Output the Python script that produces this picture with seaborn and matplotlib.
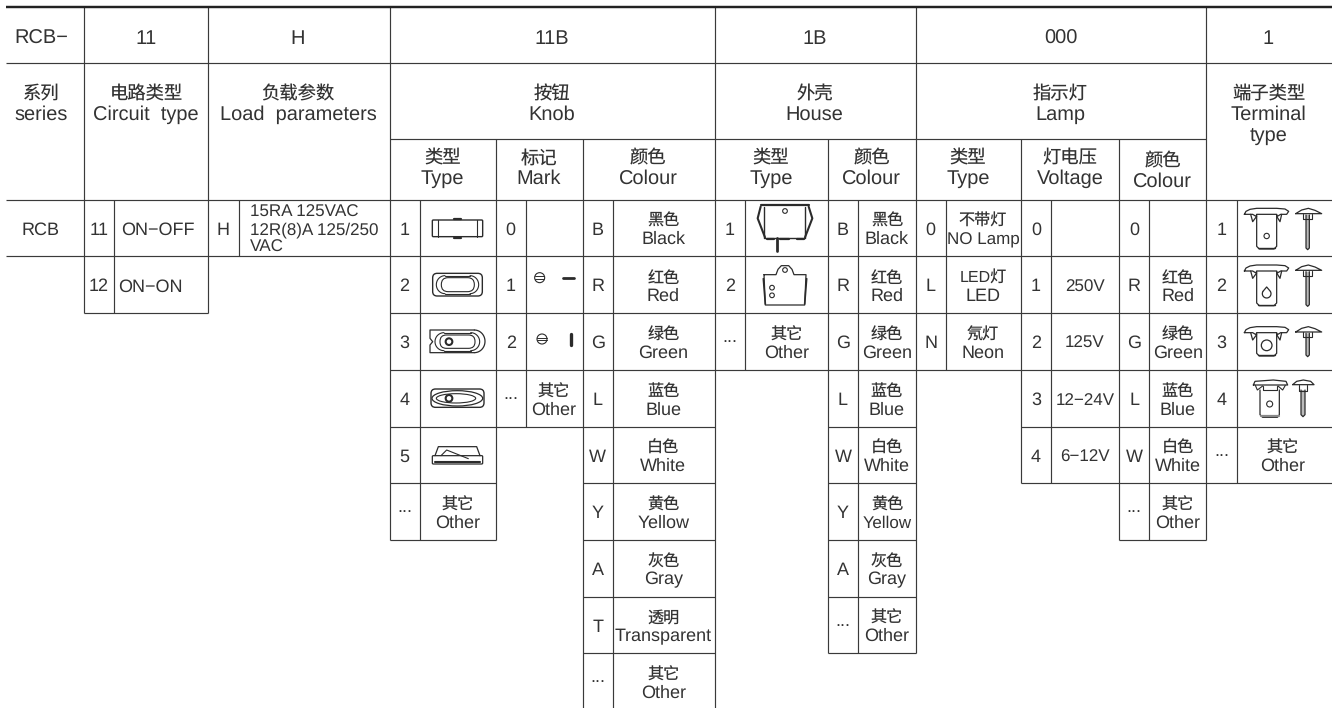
import matplotlib
matplotlib.use("Agg")
import matplotlib.pyplot as plt
from matplotlib.patches import Circle, Ellipse, FancyBboxPatch, Polygon
import numpy as np
import seaborn as sns

# ---------- table content ----------
top_codes = ["RCB−", "11", "H", "11B", "1B", "000", "1"]
head_cn = ["系列", "电路类型", "负载参数", "按钮", "外壳", "指示灯"]
head_en = ["series", "Circuit  type", "Load  parameters", "Knob", "House", "Lamp"]
terminal_head = ["端子类型", "Terminal", "type"]
sub_cn = ["类型", "标记", "颜色", "类型", "颜色", "类型", "灯电压", "颜色"]
sub_en = ["Type", "Mark", "Colour", "Type", "Colour", "Type", "Voltage", "Colour"]

series_label = "RCB"
circuit_codes = ["11", "12"]
circuit_names = ["ON−OFF", "ON−ON"]
load_code = "H"
load_lines = ["15RA 125VAC", "12R(8)A 125/250", "VAC"]

knob_type_codes = ["1", "2", "3", "4", "5", "..."]
mark_codes = ["0", "1", "2", "..."]
knob_colour_codes = ["B", "R", "G", "L", "W", "Y", "A", "T", "..."]
knob_colour_cn = ["黑色", "红色", "绿色", "蓝色", "白色", "黄色", "灰色", "透明", "其它"]
knob_colour_en = ["Black", "Red", "Green", "Blue", "White", "Yellow", "Gray", "Transparent", "Other"]
house_type_codes = ["1", "2", "..."]
house_colour_codes = ["B", "R", "G", "L", "W", "Y", "A", "..."]
house_colour_cn = ["黑色", "红色", "绿色", "蓝色", "白色", "黄色", "灰色", "其它"]
house_colour_en = ["Black", "Red", "Green", "Blue", "White", "Yellow", "Gray", "Other"]
lamp_type_codes = ["0", "L", "N"]
lamp_type_cn = ["不带灯", "LED灯", "氖灯"]
lamp_type_en = ["NO Lamp", "LED", "Neon"]
voltage_codes = ["0", "1", "2", "3", "4"]
voltage_names = ["", "250V", "125V", "12−24V", "6−12V"]
lamp_colour_codes = ["0", "R", "G", "L", "W", "..."]
lamp_colour_cn = ["", "红色", "绿色", "蓝色", "白色", "其它"]
lamp_colour_en = ["", "Red", "Green", "Blue", "White", "Other"]
terminal_codes = ["1", "2", "3", "4", "..."]
other_cn, other_en = "其它", "Other"

# ---------- layout (pixels) ----------
ROWS = [199.7, 256.4, 313.3, 370, 426.7, 483.3, 540, 596.7, 653.3, 710]
MID = [(a + b) / 2 for a, b in zip(ROWS, ROWS[1:])]
LINE = "#3a3a3a"
INK = "#333333"
ICON = "#2b2b2b"
HEAD_SIZE = 14.4
CELL_SIZE = 12.8

sns.set_theme(style="white")
plt.rcParams["font.family"] = ["Liberation Sans", "Noto Sans CJK SC", "DejaVu Sans"]
plt.rcParams["text.hinting"] = "no_hinting"
plt.rcParams["text.hinting_factor"] = 1

fig = plt.figure(figsize=(13.32, 7.08), dpi=100)
ax = fig.add_axes([0, 0, 1, 1])
ax.set_xlim(0, 1332)
ax.set_ylim(708, 0)
sns.despine(ax=ax, left=True, bottom=True)
ax.axis("off")

# ---------- rules ----------
h_rules = [
    (63.3, 6, 1332), (139.3, 389.5, 1206.3), (199.7, 6, 1332), (256.4, 6, 1332),
    (313.3, 84, 208), (313.3, 389.5, 1332), (370, 389.5, 1332),
    (426.7, 389.5, 714.7), (426.7, 828, 915.7), (426.7, 1021, 1332),
    (483.3, 389.5, 496), (483.3, 582.6, 714.7), (483.3, 828, 915.7), (483.3, 1021, 1332),
    (540, 389.5, 496), (540, 582.6, 714.7), (540, 828, 915.7), (540, 1119.3, 1206.3),
    (596.7, 582.6, 714.7), (596.7, 828, 915.7),
    (653.3, 582.6, 714.7), (653.3, 828, 915.7),
]
v_rules = [
    (84, 7, 313.3), (114.3, 199.7, 313.3), (208, 7, 313.3), (238.7, 199.7, 256.4),
    (389.5, 7, 540), (419.7, 199.7, 540), (496, 139.3, 540), (525.7, 199.7, 426.7),
    (582.6, 139.3, 708), (612.7, 199.7, 708), (714.7, 7, 708), (745, 199.7, 370),
    (828, 139.3, 653.3), (858.3, 199.7, 653.3), (915.7, 7, 653.3), (945.7, 199.7, 370),
    (1021, 139.3, 483.3), (1051, 199.7, 483.3), (1119.3, 139.3, 540), (1149.3, 199.7, 540),
    (1206.3, 7, 540), (1236.7, 199.7, 483.3),
]
for y, a, b in h_rules:
    ax.plot([a, b], [y, y], color=LINE, lw=0.85, solid_capstyle="butt")
for x, a, b in v_rules:
    ax.plot([x, x], [a, b], color=LINE, lw=0.85, solid_capstyle="butt")
ax.plot([6, 1332], [6.8, 6.8], color="#222222", lw=1.75, solid_capstyle="butt")

# ---------- text helpers ----------
def put(x, y, s, size=CELL_SIZE, ha="center"):
    if s:
        ax.text(x, y, s, fontsize=size, color=INK, ha=ha, va="baseline")

def code(x, row, s):
    if s == "...":
        put(x, MID[row] + 0.5, s)
    else:
        put(x, MID[row] + 6.6, s)

def pair(x, row, cn, en, en_size=CELL_SIZE):
    put(x, MID[row] - 2, cn, size=11.6)
    put(x, MID[row] + 16, en, size=en_size)

# top row
for x, s in zip([41, 146, 298, 552, 815, 1060.5, 1268.5], top_codes):
    put(x, 43.8, s, size=HEAD_SIZE)

# header row
for x, cn, en in zip([41, 146, 298, 552, 814.5, 1060.5], head_cn, head_en):
    put(x, 99.5, cn, size=13.2)
    put(x, 120, en, size=HEAD_SIZE)
put(1268.5, 99.5, terminal_head[0], size=13.2)
put(1268.5, 120, terminal_head[1], size=HEAD_SIZE)
put(1268.5, 142, terminal_head[2], size=HEAD_SIZE)

# sub header row
sub_x = [442.5, 539, 648.3, 771, 871.5, 968, 1070, 1162.5]
for i, (x, cn, en) in enumerate(zip(sub_x, sub_cn, sub_en)):
    dy = 3 if i == 7 else 0
    put(x, 163.5 + dy, cn, size=13.2)
    put(x, 184 + dy, en, size=HEAD_SIZE)

# left block
put(41, MID[0] + 6.6, series_label)
put(99, MID[0] + 6.6, circuit_codes[0])
put(99, MID[1] + 6.6, circuit_codes[1])
put(157.5, MID[0] + 6.6, circuit_names[0])
put(150.5, MID[1] + 6.6, circuit_names[1])
put(222.7, MID[0] + 6.6, load_code)
for dy, s in zip([-11.5, 6.4, 24], load_lines):
    put(250, MID[0] + dy, s, size=12.6, ha="left")

# code columns
for x, codes in [(404.6, knob_type_codes), (510.8, mark_codes), (597.6, knob_colour_codes),
                 (729.8, house_type_codes), (843, house_colour_codes), (930.7, lamp_type_codes),
                 (1036, voltage_codes), (1134.3, lamp_colour_codes), (1221.5, terminal_codes)]:
    for r, s in enumerate(codes):
        code(x, r, s)

# label columns
for r, (c, e) in enumerate(zip(knob_colour_cn, knob_colour_en)):
    pair(663.4, r, c, e)
for r, (c, e) in enumerate(zip(house_colour_cn, house_colour_en)):
    pair(887, r, c, e, en_size=12.3 if e == "Yellow" else CELL_SIZE)
for r, (c, e) in enumerate(zip(lamp_type_cn, lamp_type_en)):
    pair(983, r, c, e, en_size=11.9 if e == "NO Lamp" else CELL_SIZE)
for r, (c, e) in enumerate(zip(lamp_colour_cn, lamp_colour_en)):
    pair(1177.8, r, c, e)
for r, s in enumerate(voltage_names):
    put(1085, MID[r] + 6.6, s, size=12.4)
pair(457.8, 5, other_cn, other_en)
pair(554, 3, other_cn, other_en)
pair(786.5, 2, other_cn, other_en)
pair(1282.5, 4, other_cn, other_en)

# ---------- line-art icons, sketched in a 3x local grid ----------
def mapper(ox, oy):
    return lambda x, y: (ox + x / 3, oy + y / 3)

def pl(m, pts, lw=0.8, close=False, color=ICON, fill=None, z=5):
    xy = [m(*p) for p in pts]
    if close:
        xy.append(xy[0])
    if fill:
        ax.add_patch(Polygon(xy, closed=True, fc=fill, ec="none", zorder=z - 1))
    ax.plot(*zip(*xy), color=color, lw=lw, solid_capstyle="round", solid_joinstyle="round", zorder=z)

def arc(m, cx, cy, rx, ry, t0, t1, lw=0.8):
    t = np.radians(np.linspace(t0, t1, 30))
    pl(m, list(zip(cx + rx * np.cos(t), cy + ry * np.sin(t))), lw)

def circ(m, x, y, r, lw=0.8, fc="white"):
    ax.add_patch(Circle(m(x, y), r / 3, fc=fc, ec=ICON, lw=lw, zorder=4))

def ell(m, x, y, w, h, lw=0.8):
    ax.add_patch(Ellipse(m(x, y), w / 3, h / 3, fc="none", ec=ICON, lw=lw, zorder=3))

def rbox(m, x0, y0, x1, y1, rad, lw=0.8):
    a = m(x0, y0)
    b = m(x1, y1)
    ax.add_patch(FancyBboxPatch((a[0] + rad, a[1] + rad), b[0] - a[0] - 2 * rad, b[1] - a[1] - 2 * rad,
                                boxstyle=f"round,pad={rad}", fc="none", ec=ICON, lw=lw, zorder=3))

K = mapper(380, 190)
# knob 1
rbox(K, 157, 90, 308, 140, 1.0, 1.0)
pl(K, [(175, 90), (175, 140)])
pl(K, [(292, 90), (292, 140)])
pl(K, [(222, 88), (243, 88)], 1.6)
pl(K, [(222, 143), (243, 143)], 1.6)
# knob 2
rbox(K, 158, 250, 307, 318, 4.5, 1.0)
arc(K, 195, 284, 26, 27, 90, 270, 0.8)
arc(K, 270, 284, 26, 27, -90, 90, 0.8)
pl(K, [(195, 257), (270, 257)])
pl(K, [(195, 311), (270, 311)])
rbox(K, 184, 263, 283, 305, 6.8, 0.8)
# knob 3
pl(K, [(283, 420), (150, 420), (150, 445), (158, 455), (150, 465), (150, 488), (283, 488)], 0.9)
arc(K, 283, 454, 32, 34, -90, 90, 0.9)
arc(K, 192, 455, 27, 27, 90, 270, 0.8)
arc(K, 272, 455, 27, 27, -90, 90, 0.8)
pl(K, [(192, 428), (272, 428)])
pl(K, [(192, 482), (272, 482)])
rbox(K, 180, 435, 285, 475, 6.4, 0.8)
circ(K, 207, 455, 10, 1.5)
# knob 4
rbox(K, 153, 597, 312, 652, 4.5, 1.0)
ell(K, 232, 625, 152, 46, 0.9)
ell(K, 228, 625, 118, 28, 0.8)
circ(K, 207, 625, 10, 1.5)
# knob 5
pl(K, [(165, 797), (175, 770), (290, 770), (300, 797)], 0.9)
rbox(K, 157, 797, 308, 822, 1.0, 0.9)
pl(K, [(165, 815), (300, 815)], 1.5)
pl(K, [(183, 797), (200, 780), (265, 806)], 0.8)

# mark icons
for x, y in [(479, 263), (486, 447)]:
    circ(K, x, y, 15, 0.8)
    pl(K, [(x - 14, y - 4), (x + 14, y - 4)], 0.7)
    pl(K, [(x - 14, y + 4), (x + 14, y + 4)], 0.7)
pl(K, [(549, 263), (581, 263)], 2.0)
pl(K, [(572, 432), (572, 464)], 2.4)

H = mapper(710, 190)
# house 1
pl(H, [(152, 45), (296, 45)], 1.6)
pl(H, [(163, 50), (163, 145), (285, 145), (285, 50)], 1.0)
pl(H, [(152, 50), (143, 85), (165, 142)], 1.5)
pl(H, [(296, 50), (307, 85), (285, 142)], 1.5)
pl(H, [(172, 147), (192, 147)], 1.6)
pl(H, [(210, 147), (236, 147)], 1.6)
pl(H, [(262, 147), (282, 147)], 1.6)
pl(H, [(201, 145), (201, 183)], 2.0)
circ(H, 225, 63, 7, 0.8)
# house 2
pl(H, [(162, 254), (198, 254), (204, 238), (214, 227), (236, 227), (246, 238), (252, 254),
       (288, 254), (284, 345), (166, 345)], 0.9, close=True)
pl(H, [(160, 266), (166, 342)], 1.2)
pl(H, [(290, 266), (284, 342)], 1.2)
circ(H, 225, 240, 7, 0.8)
circ(H, 186, 293, 7, 0.8)
circ(H, 186, 316, 7, 0.8)

T = mapper(1040, 190)
def terminal(y0, length, hole):
    """y0: cap top in local grid."""
    cap = [(613, y0 + 18), (618, y0 + 9), (630, y0 + 3), (650, y0), (710, y0), (735, y0 + 2), (746, y0 + 9),
           (740, y0 + 18), (722, y0 + 18), (712, y0 + 24), (710, y0 + 18), (650, y0 + 18),
           (648, y0 + 24), (638, y0 + 18)]
    pl(T, cap, 0.9, close=True)
    pl(T, [(632, y0 + 18), (638, y0 + 40), (650, y0 + 24)], 0.9)
    pl(T, [(725, y0 + 18), (720, y0 + 40), (710, y0 + 24)], 0.9)
    pl(T, [(650, y0 + 20), (650, y0 + length - 8), (658, y0 + length), (702, y0 + length),
           (710, y0 + length - 8), (710, y0 + 20)], 0.9)
    pl(T, [(655, y0 + length - 2), (705, y0 + length - 2)], 1.0)
    hy = y0 + length * 0.68
    if hole == "round":
        circ(T, 680, hy, 8, 0.8)
    elif hole == "drop":
        arc(T, 680, hy + 3, 13, 13, -30, 210, 0.9)
        pl(T, [(669, hy - 4), (680, hy - 17), (691, hy - 4)], 0.9)
    else:
        circ(T, 680, y0 + length - 32, 16, 0.9)
    # side view
    pl(T, [(767, y0 + 16), (785, y0 + 5), (805, y0), (825, y0 + 6), (845, y0 + 16), (767, y0 + 16)], 0.9)
    pl(T, [(788, y0 + 17), (788, y0 + 32), (816, y0 + 32), (816, y0 + 17)], 0.8)
    pl(T, [(798, y0 + 20), (798, y0 + length - 3), (803, y0 + length + 2), (808, y0 + length - 3),
           (808, y0 + 20)], 0.9, fill="#bbbbbb")

terminal(55, 122, "round")
terminal(225, 122, "drop")
terminal(410, 88, "big")

# terminal 4
pl(T, [(640, 585), (645, 574), (700, 570), (738, 574), (743, 585), (640, 585)], 0.9)
pl(T, [(646, 586), (652, 600), (668, 588)], 0.8)
pl(T, [(736, 586), (728, 600), (714, 588)], 0.8)
pl(T, [(668, 588), (668, 600), (712, 600), (712, 588)], 0.8)
pl(T, [(660, 600), (660, 674), (668, 682), (712, 682), (718, 674), (718, 600)], 0.9, fill="white")
pl(T, [(662, 678), (716, 678)], 1.6, color="#888888")
circ(T, 689, 642, 9, 0.8)
pl(T, [(758, 584), (770, 574), (790, 570), (812, 574), (822, 584), (758, 584)], 0.9)
pl(T, [(776, 586), (776, 602), (802, 602), (802, 586)], 0.8)
pl(T, [(783, 600), (783, 674), (789, 680), (795, 674), (795, 600)], 0.9, fill="#bbbbbb")

fig.savefig("out.png", dpi=100)
